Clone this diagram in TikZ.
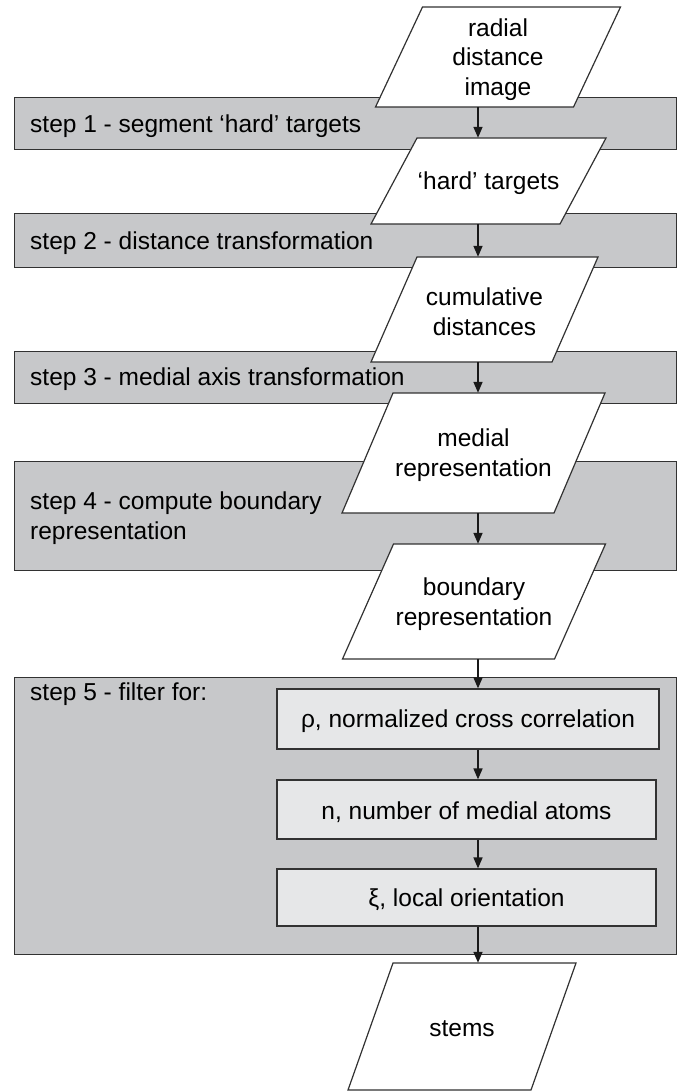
\documentclass[tikz,border=0pt]{standalone}
\usepackage{fontspec}
\setmainfont{Liberation Sans}
\usetikzlibrary{arrows.meta}
\definecolor{bandgray}{RGB}{199,200,202}
\definecolor{boxgray}{RGB}{230,231,232}
\definecolor{edgecol}{RGB}{50,50,50}
\tikzset{
  band/.style={draw=edgecol, fill=bandgray, line width=1.2pt, anchor=north west, inner sep=0pt},
  inbox/.style={draw=edgecol, fill=boxgray, line width=1.2pt, inner sep=0pt},
  para/.style={draw=edgecol, fill=white, line width=1.2pt, line join=miter},
  lbl/.style={font=\fontsize{24.5}{29.7}\selectfont, align=center, inner sep=0pt, yshift=-2.5pt},
  anch/.style={inner sep=0pt},
  steplbl/.style={font=\fontsize{24.5}{29.5}\selectfont, align=left, inner sep=0pt, anchor=west, yshift=-2pt},
  arr/.style={line width=1.6pt, draw=black!90, -{Triangle[length=11pt,width=9pt]}}
}
\newcommand\pbox[7]{%
  \draw[para] ({#2-#4/2-#6/2},{#3+#5/2}) -- ({#2+#4/2-#6/2},{#3+#5/2})
     -- ({#2+#4/2+#6/2},{#3-#5/2}) -- ({#2-#4/2+#6/2},{#3-#5/2}) -- cycle;
  \node[anch, minimum height=#5pt] (#1) at (#2,#3) {};
  \node[lbl] (#1t) at (#2,#3) {#7};
}
\begin{document}
\begin{tikzpicture}[x=1pt,y=-1pt]
\useasboundingbox (0,0) rectangle (679,1091);
% bands
\node[band, minimum width=662pt, minimum height=52pt] (b1) at (14,97) {};
\node[band, minimum width=662pt, minimum height=54pt] (b2) at (14,213) {};
\node[band, minimum width=662pt, minimum height=52pt] (b3) at (14,351) {};
\node[band, minimum width=662pt, minimum height=109pt] (b4) at (14,461) {};
\node[band, minimum width=662pt, minimum height=277pt] (b5) at (14,677) {};
% band labels
\node[steplbl] (s1) at (30,124) {step 1 - segment ‘hard’ targets};
\node[steplbl] (s2) at (30,241) {step 2 - distance transformation};
\node[steplbl] (s3) at (30,377) {step 3 - medial axis transformation};
\node[steplbl] (s4) at (30,516) {step 4 - compute boundary\\representation};
\node[steplbl] (s5) at (30,692) {step 5 - filter for:};
% parallelograms
\pbox{p1}{498}{57}{198}{100}{47}{radial\\distance\\image}
\pbox{p2}{488.5}{181}{189}{86}{46}{‘hard’ targets}
\pbox{p3}{484.5}{309.5}{181}{105}{46}{cumulative\\distances}
\pbox{p4}{473.5}{453}{212}{120}{51}{medial\\representation}
\pbox{p5}{474}{601.5}{212}{115}{51}{boundary\\representation}
\pbox{p6}{462}{1026.5}{183}{127}{45}{stems}
% filter boxes
\node[inbox, minimum width=382pt, minimum height=60pt] (rho) at (468,719) {};
\node[lbl] (rhot) at (rho) {ρ, normalized cross correlation};
\node[inbox, minimum width=379pt, minimum height=59pt] (nn) at (466.5,809.5) {};
\node[lbl] (nnt) at (nn) {n, number of medial atoms};
\node[inbox, minimum width=379pt, minimum height=57pt] (xi) at (466.5,897.5) {};
\node[lbl] (xit) at (xi) {ξ, local orientation};
% arrows
\coordinate (ax) at (478,0);
\draw[arr] (p1.south -| ax) -- (p2.north -| ax);
\draw[arr] (p2.south -| ax) -- (p3.north -| ax);
\draw[arr] (p3.south -| ax) -- (p4.north -| ax);
\draw[arr] (p4.south -| ax) -- (p5.north -| ax);
\draw[arr] (p5.south -| ax) -- (rho.north -| ax);
\draw[arr] (rho.south -| ax) -- (nn.north -| ax);
\draw[arr] (nn.south -| ax) -- (xi.north -| ax);
\draw[arr] (xi.south -| ax) -- (p6.north -| ax);
\end{tikzpicture}
\end{document}
